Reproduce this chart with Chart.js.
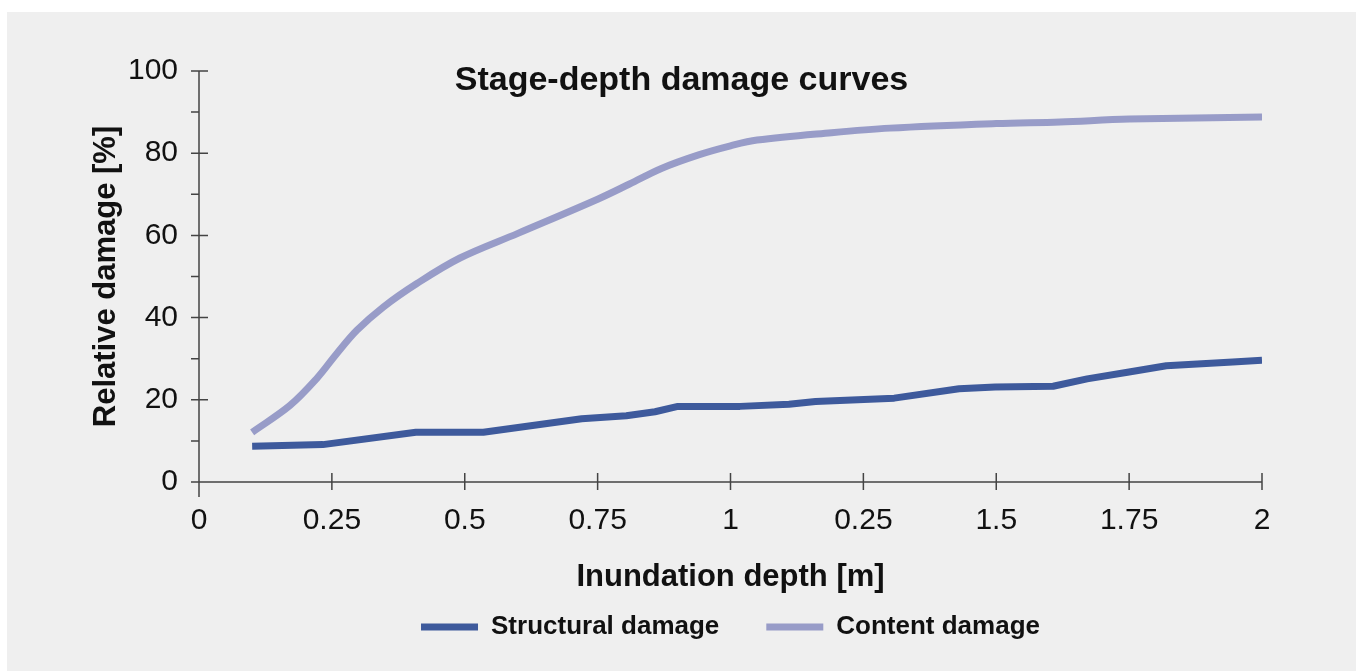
<!DOCTYPE html>
<html>
<head>
<meta charset="utf-8">
<script src="https://cdn.jsdelivr.net/npm/chart.js@4.4.1/dist/chart.umd.min.js"></script>
<style>
html, body { margin: 0; padding: 0; background: #ffffff; }
#panel { position: absolute; left: 7px; top: 12px; width: 1349px; height: 659px; background: #efefef; }
</style>
</head>
<body>
<div id="panel"><canvas id="chart"></canvas></div>
<script>
const structuralDepth = [0.1, 0.233, 0.408, 0.535, 0.72, 0.804, 0.858, 0.901, 1.018, 1.11, 1.16, 1.308, 1.43, 1.498, 1.607, 1.671, 1.747, 1.82, 1.945, 2.0];
const structuralDamage = [8.7, 9.1, 12.1, 12.1, 15.4, 16.1, 17.1, 18.4, 18.4, 18.9, 19.6, 20.4, 22.7, 23.1, 23.3, 25.1, 26.7, 28.3, 29.2, 29.6];

const contentDepth = [0.1, 0.171, 0.221, 0.259, 0.297, 0.347, 0.41, 0.491, 0.6, 0.75, 0.81, 0.87, 0.94, 1.0, 1.05, 1.19, 1.3, 1.5, 1.62, 1.75, 2.0];
const contentDamage = [12.1, 18.6, 25.1, 31.2, 36.9, 42.6, 48.3, 54.5, 60.5, 68.8, 72.5, 76.3, 79.6, 81.8, 83.2, 85.0, 86.1, 87.2, 87.6, 88.3, 88.8];

// labels as printed in the original (the 1.25 tick reads "0.25")
const xTickLabels = ['0', '0.25', '0.5', '0.75', '1', '0.25', '1.5', '1.75', '2'];

const seriesNames = ['Structural damage', 'Content damage'];
const seriesColors = ['#3e5a9c', '#989cc8'];

let toPoints = (xs, ys) => xs.map((v, i) => ({x: v, y: ys[i]}));

Chart.defaults.font.family = "'Liberation Sans', Arial, sans-serif";
Chart.defaults.color = '#111';

// axis lines with ticks that cross the axis
const axisLines = {
	id: 'axisLines',
	beforeDatasetsDraw(chart) {
		let {ctx, scales: {x, y}} = chart;
		let x0 = x.getPixelForValue(x.min);
		let y0 = y.getPixelForValue(y.min);
		ctx.save();
		ctx.strokeStyle = '#444';
		ctx.lineWidth = 1.5;
		ctx.beginPath();
		ctx.moveTo(x0, y.getPixelForValue(y.max));
		ctx.lineTo(x0, y0 + 15);
		ctx.moveTo(x0 - 8, y0);
		ctx.lineTo(x.getPixelForValue(x.max), y0);
		y.ticks.forEach((t) => {
			let py = y.getPixelForValue(t.value);
			ctx.moveTo(x0 - 8, py);
			ctx.lineTo(t.value % 20 === 0 ? x0 + 9 : x0, py);
		});
		x.ticks.forEach((t) => {
			if (t.value === x.min) return;
			let px = x.getPixelForValue(t.value);
			ctx.moveTo(px, y0 - 9);
			ctx.lineTo(px, y0 + 8);
		});
		ctx.stroke();
		ctx.restore();
	},
};

new Chart(document.getElementById('chart'), {
	type: 'line',
	data: {
		datasets: [
			{
				label: seriesNames[0],
				data: toPoints(structuralDepth, structuralDamage),
				borderColor: seriesColors[0],
				backgroundColor: seriesColors[0],
				borderWidth: 7,
				pointRadius: 0,
				tension: 0,
				borderJoinStyle: 'round',
			},
			{
				label: seriesNames[1],
				data: toPoints(contentDepth, contentDamage),
				borderColor: seriesColors[1],
				backgroundColor: seriesColors[1],
				borderWidth: 7,
				pointRadius: 0,
				tension: 0.35,
				borderJoinStyle: 'round',
			},
		],
	},
	options: {
		responsive: true,
		maintainAspectRatio: false,
		animation: false,
		layout: {padding: {left: 0, right: 0, top: 0, bottom: 21}},
		plugins: {
			title: {
				display: true,
				text: 'Stage-depth damage curves',
				color: '#111',
				font: {size: 34, weight: 'bold'},
				padding: {top: 48, bottom: -29.8},
			},
			legend: {
				position: 'bottom',
				fullSize: false,
				labels: {
					boxWidth: 57,
					boxHeight: 7,
					padding: 47,
					color: '#111',
					font: {size: 26, weight: 'bold'},
					generateLabels(chart) {
						return Chart.defaults.plugins.legend.labels.generateLabels(chart)
							.map((item) => Object.assign(item, {lineWidth: 0}));
					},
				},
			},
			tooltip: {enabled: false},
		},
		scales: {
			x: {
				type: 'linear',
				min: 0,
				max: 2,
				grid: {display: false, drawTicks: false},
				border: {display: false},
				ticks: {
					stepSize: 0.25,
					autoSkip: false,
					maxRotation: 0,
					padding: 21,
					font: {size: 30},
					color: '#111',
					callback: (value, index) => xTickLabels[index],
				},
				title: {
					display: true,
					text: 'Inundation depth [m]',
					color: '#111',
					font: {size: 31, weight: 'bold'},
					padding: {top: 0, bottom: -28.6},
				},
				afterFit: (scale) => { scale.height = 85; },
			},
			y: {
				min: 0,
				max: 100,
				grid: {display: false, drawTicks: false},
				border: {display: false},
				ticks: {
					stepSize: 10,
					autoSkip: false,
					padding: 21,
					font: {size: 30},
					color: '#111',
					callback: (value) => (value % 20 === 0 ? String(value) : ''),
				},
				title: {
					display: true,
					text: 'Relative damage [%]',
					color: '#111',
					font: {size: 31, weight: 'bold'},
					padding: {top: 81, bottom: 0},
				},
				afterFit: (scale) => { scale.width = 192; },
			},
			yRight: {
				position: 'right',
				display: true,
				grid: {display: false},
				border: {display: false},
				ticks: {display: false},
				afterFit: (scale) => { scale.width = 94; },
			},
		},
	},
	plugins: [axisLines],
});
</script>
</body>
</html>
